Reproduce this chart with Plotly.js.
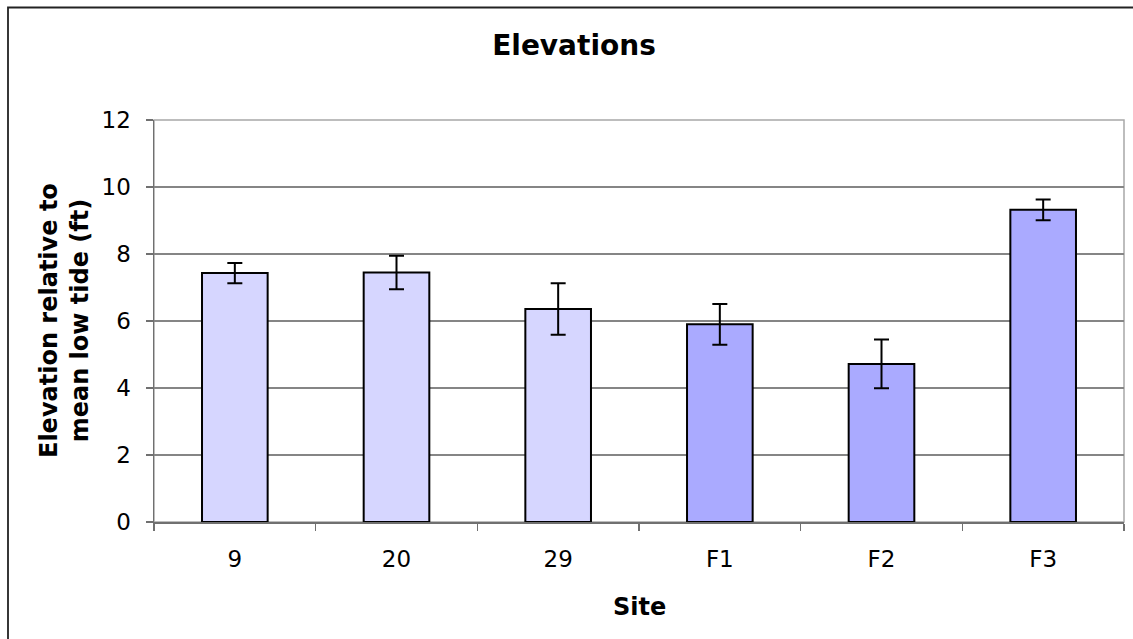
<!DOCTYPE html>
<html>
<head>
<meta charset="utf-8">
<script src="https://cdn.plot.ly/plotly-3.0.1.min.js"></script>
<style>
html,body{margin:0;padding:0;background:#fff;}
#chart{width:1133px;height:639px;}
</style>
</head>
<body>
<div id="chart"></div>
<script>
const sites = ["9", "20", "29", "F1", "F2", "F3"];
const elevations = [7.43, 7.45, 6.36, 5.90, 4.72, 9.32];
const errors = [0.30, 0.50, 0.77, 0.61, 0.73, 0.31];
const barColors = ["#d6d6ff", "#d6d6ff", "#d6d6ff", "#aaaaff", "#aaaaff", "#aaaaff"];
const yTicks = [0, 2, 4, 6, 8, 10, 12];

const L = 154, R = 9, T = 120, B = 117;
const W = 1133 - L - R, H = 639 - T - B;
const px = x => (x - L) / W;
const py = y => (639 - B - y) / H;

const trace = {
  type: "bar",
  x: sites,
  y: elevations,
  width: 0.406,
  marker: {
    color: barColors,
    line: {color: "#000", width: 2}
  },
  error_y: {type: "data", array: errors, visible: true, color: "#000", thickness: 2, width: 7.5},
  hoverinfo: "skip"
};

const font = "DejaVu Sans, Verdana, sans-serif";

const layout = {
  width: 1133, height: 639,
  margin: {l: L, r: R, t: T, b: B},
  paper_bgcolor: "#fff", plot_bgcolor: "#fff",
  showlegend: false,
  font: {family: font, color: "#000"},
  title: {text: "<b>Elevations</b>", font: {family: font, size: 28, color: "#000"},
          xref: "container", x: 574 / 1133, xanchor: "center",
          yref: "container", y: 1 - 45 / 639, yanchor: "middle"},
  xaxis: {
    type: "category",
    showgrid: false,
    showline: true, linecolor: "#707070", linewidth: 1.5,
    ticks: "outside", ticklen: 7, tickcolor: "#707070", tickwidth: 1.5,
    tickson: "boundaries",
    ticklabelstandoff: 16,
    tickfont: {family: font, size: 23, color: "#000"},
    zeroline: false
  },
  yaxis: {
    range: [0, 12],
    tickvals: yTicks,
    ticktext: yTicks.map(String),
    showgrid: true, gridcolor: "#858585", gridwidth: 1.3,
    showline: true, linecolor: "#707070", linewidth: 1.5,
    ticks: "outside", ticklen: 7, tickcolor: "#707070", tickwidth: 1.5,
    ticklabelstandoff: 10,
    tickfont: {family: font, size: 23, color: "#000"},
    zeroline: false
  },
  shapes: [
    {type: "rect", xref: "paper", yref: "paper", x0: 0, x1: 1, y0: 0, y1: 1,
     line: {color: "#a8a8a8", width: 1.5}, layer: "below"},
    {type: "rect", xref: "paper", yref: "paper", x0: px(8), x1: px(1140), y0: py(650), y1: py(7.5),
     line: {color: "#222", width: 1.8}}
  ],
  annotations: [
    {text: "<b>Elevation relative to<br>mean low tide (ft)</b>", textangle: -90,
     xref: "paper", yref: "paper", x: px(64), y: 0.5, xanchor: "center", yanchor: "middle",
     showarrow: false, font: {family: font, size: 24, color: "#000"}},
    {text: "<b>Site</b>", xref: "paper", yref: "paper", x: 0.5, y: py(607),
     xanchor: "center", yanchor: "middle", showarrow: false,
     font: {family: font, size: 24, color: "#000"}}
  ]
};

Plotly.newPlot("chart", [trace], layout, {staticPlot: true, displayModeBar: false});
</script>
</body>
</html>
